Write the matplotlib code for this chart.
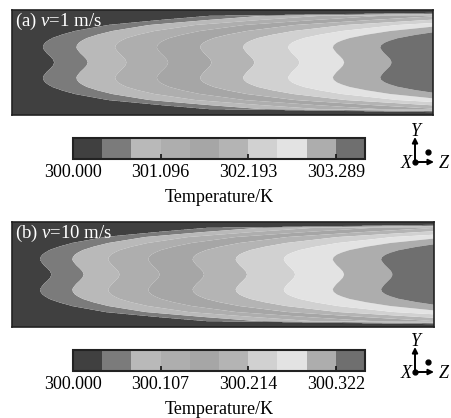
import numpy as np
import matplotlib
matplotlib.use('Agg')
import matplotlib.pyplot as plt
from matplotlib.colors import ListedColormap, BoundaryNorm

# ---------------- data ----------------
band_grays = ['#404040', '#7b7b7b', '#b9b9b9', '#aeaeae', '#a6a6a6',
              '#b4b4b4', '#d1d1d1', '#e3e3e3', '#adadad', '#6f6f6f']
t_min = 300.0
step_a = 0.36543
step_b = 0.035778
tick_bands = [0, 3, 6, 9]
tick_labels_a = ['300.000', '301.096', '302.193', '303.289']
tick_labels_b = ['300.000', '300.107', '300.214', '300.322']
title_a = r'(a) $v$=1 m/s'
title_b = r'(b) $v$=10 m/s'

# centreline (lobe) positions of band boundaries 1..9, fraction of channel length
fronts_a = [0.074, 0.153, 0.245, 0.344, 0.447, 0.549, 0.656, 0.762, 0.874]
fronts_b = [0.067, 0.143, 0.228, 0.323, 0.428, 0.530, 0.644, 0.760, 0.874]

# transverse profile of contour displacement (|y| from centre, channel height = 1)
prof_y = [0.0, 0.03, 0.06, 0.09, 0.12, 0.14, 0.165, 0.19, 0.21, 0.233,
          0.265, 0.30, 0.357, 0.405, 0.443, 0.471, 0.50]
wave = [0.027, 0.024, 0.017, 0.009, 0.003, 0.0, 0.0, 0.0, 0.0, 0.0,
        0.0, 0.0, 0.0, 0.0, 0.0, 0.0, 0.0]
wall = [0.0, 0.0, 0.0, 0.0, 0.0, 0.0, 0.001, 0.005, 0.011, 0.020,
        0.040, 0.068, 0.138, 0.25, 0.35, 0.82, 2.5]

plt.rcParams['font.family'] = ['Liberation Serif', 'DejaVu Serif']
plt.rcParams['mathtext.fontset'] = 'custom'
plt.rcParams['mathtext.it'] = 'Liberation Serif:italic'
plt.rcParams['mathtext.rm'] = 'Liberation Serif'

W, H = 451, 418
fig = plt.figure(figsize=(W / 100, H / 100), dpi=100)

cmap = ListedColormap(band_grays)


def px_axes(x0, y0, x1, y1):
    return fig.add_axes([x0 / W, 1 - y1 / H, (x1 - x0) / W, (y1 - y0) / H])


def band_field(fronts, step):
    x = np.linspace(0, 1, 800)
    y = np.linspace(-0.5, 0.5, 401)
    ay = np.abs(y)
    w = np.interp(ay, prof_y, wave)
    g = np.interp(ay, prof_y, wall)
    kk = np.arange(1, 10)
    K = np.empty((len(y), len(x)))
    for i in range(len(y)):
        bx = np.array(fronts) + w[i] + (1 + kk / 8.0) * g[i]
        K[i] = np.interp(x, np.r_[-5.0, bx, bx[-1] + 5.0], np.r_[0.5, kk, 9.5])
    return x, y, t_min + step * K


def panel(box, cbox, fronts, step, title, ticklabels):
    ax = px_axes(*box)
    x, y, T = band_field(fronts, step)
    levels = t_min + step * np.arange(11)
    norm = BoundaryNorm(levels, cmap.N)
    cs = ax.contourf(x, y, T, levels=levels, cmap=cmap, norm=norm, antialiased=True)
    ax.set_xlim(0, 1)
    ax.set_ylim(-0.5, 0.5)
    ax.set_xticks([])
    ax.set_yticks([])
    for s in ax.spines.values():
        s.set_linewidth(1.2)
        s.set_color('#222222')
    ax.text(0.007, 0.895, title, transform=ax.transAxes, color='white',
            fontsize=13.5, ha='left', va='center')

    cax = px_axes(*cbox)
    tick_vals = [t_min + step * b for b in tick_bands]
    cb = fig.colorbar(cs, cax=cax, orientation='horizontal', ticks=tick_vals)
    cb.ax.minorticks_off()
    cb.ax.set_xticklabels(ticklabels)
    cb.ax.tick_params(axis='x', which='both', length=0, labelsize=13, pad=4,
                      colors='black')
    cb.ax.tick_params(axis='y', which='both', left=False, right=False,
                      labelleft=False, labelright=False)
    cb.ax.vlines(tick_vals[1:], 0, 0.2, transform=cb.ax.get_xaxis_transform(),
                 colors='#111111', lw=1.2)
    cb.outline.set_linewidth(1.5)
    cb.outline.set_edgecolor('#222222')
    return ax


panel((12, 10, 433, 115), (73, 138, 365, 158.5), fronts_a, step_a, title_a, tick_labels_a)
panel((12, 222, 434, 327), (73, 349.5, 365, 370.5), fronts_b, step_b, title_b, tick_labels_b)

# overlay for labels and coordinate triads
ov = fig.add_axes([0, 0, 1, 1])
ov.set_xlim(0, W)
ov.set_ylim(H, 0)
ov.axis('off')

for ylab in (198, 410):
    ov.text(219, ylab, 'Temperature/K', fontsize=13, ha='center', va='center')

for oy in (162, 372):
    ox = 415
    ov.annotate('', xy=(ox, oy - 25), xytext=(ox, oy),
                arrowprops=dict(arrowstyle='-|>', lw=1.4, color='black',
                                mutation_scale=8, shrinkA=0, shrinkB=0))
    ov.annotate('', xy=(ox + 19, oy), xytext=(ox, oy),
                arrowprops=dict(arrowstyle='-|>', lw=1.4, color='black',
                                mutation_scale=8, shrinkA=0, shrinkB=0))
    ov.plot([ox], [oy], 'o', color='black', ms=3.5)
    ov.plot([ox + 13], [oy - 10], 'o', color='black', ms=3.5)
    ov.text(ox + 2, oy - 31, r'$Y$', fontsize=13, ha='center', va='center')
    ov.text(ox - 8, oy + 1, r'$X$', fontsize=13, ha='center', va='center')
    ov.text(ox + 29, oy + 1, r'$Z$', fontsize=13, ha='center', va='center')

fig.savefig('out.png', dpi=100)
